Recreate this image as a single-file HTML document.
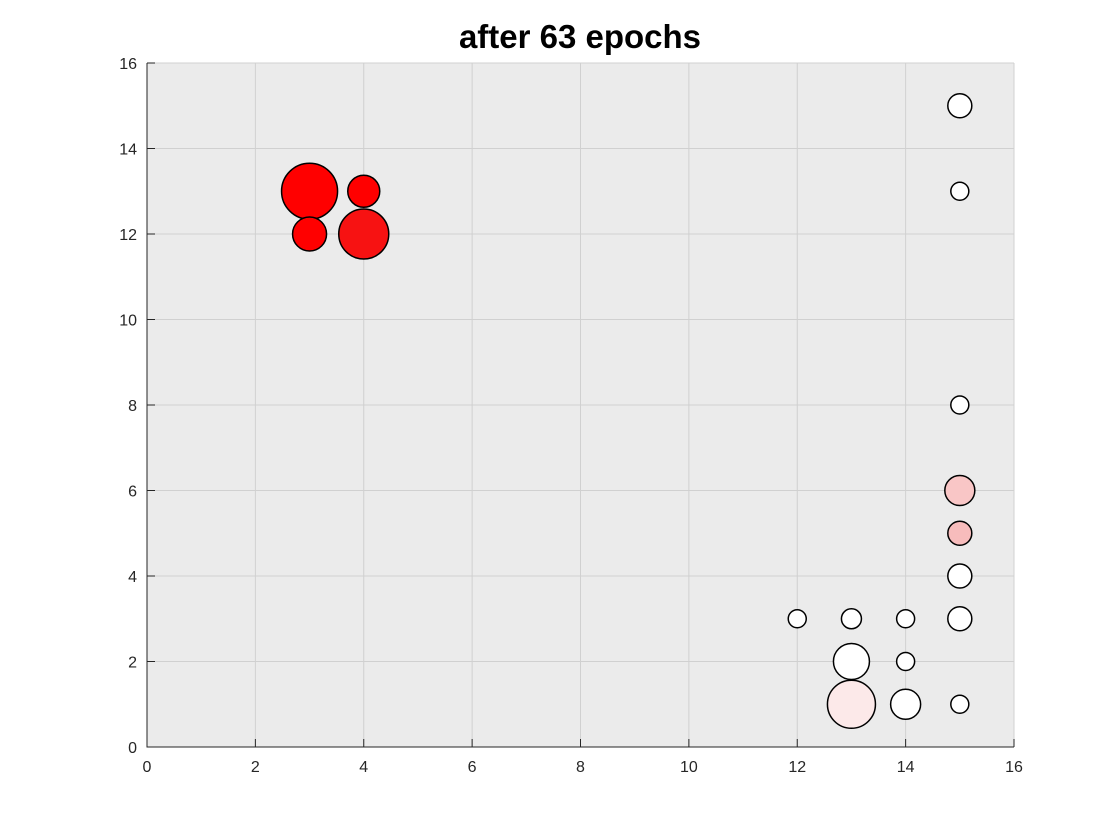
<!DOCTYPE html>
<html><head><meta charset="utf-8"><style>
body{margin:0;background:#fff;}
svg{display:block;font-family:"Liberation Sans",sans-serif;}
</style></head><body>
<svg id="chart" width="1120" height="840">
<rect x="0" y="0" width="1120" height="840" fill="#fff"/>
<text x="580" y="48" text-anchor="middle" font-size="33" font-weight="bold" fill="#000">after 63 epochs</text>
<g id="plot"></g>
</svg>
<script>
const xs=[3,4,3,4,15,15,15,15,15,15,15,12,13,14,13,14,13,14,15];
const ys=[13,13,12,12,15,13,8,6,5,4,3,3,3,3,2,2,1,1,1];
const sizes=[28,16,17,25,12,9,9,15,12,12,12,9,10,9,18,9,24,15,9];
const colors=["#ff0000","#ff0000","#ff0000","#f71212","#ffffff","#ffffff","#ffffff","#f9c6c6","#f7bcbc","#ffffff","#ffffff","#ffffff","#ffffff","#ffffff","#ffffff","#ffffff","#fce9e9","#ffffff","#ffffff"];
const xTicks=[0,2,4,6,8,10,12,14,16];
const yTicks=[0,2,4,6,8,10,12,14,16];
const L=147,R=1014,T=63,B=747;
const sx=v=>L+(R-L)*v/16, sy=v=>B-(B-T)*v/16;
const NS="http://www.w3.org/2000/svg";
const g=document.getElementById('plot');
function mk(t,a){const e=document.createElementNS(NS,t);for(const k in a)e.setAttribute(k,a[k]);g.appendChild(e);return e;}
const bg=mk('rect',{x:L,y:T,width:R-L,height:B-T,fill:'#ebebeb'});


xTicks.forEach(v=>{
 const gl=mk('line',{x1:sx(v),x2:sx(v),y1:T,y2:B,stroke:'#d0d0d0','stroke-width':1});
 
 
 mk('line',{x1:sx(v),x2:sx(v),y1:B,y2:B-8,stroke:'#262626'});
 const t=mk('text',{x:sx(v),y:B+25,'text-anchor':'middle','font-size':16,fill:'#262626'});t.textContent=v;
 
 
});
yTicks.forEach(v=>{
 const gl=mk('line',{x1:L,x2:R,y1:sy(v),y2:sy(v),stroke:'#d0d0d0','stroke-width':1});
 
 
 mk('line',{x1:L,x2:L+8,y1:sy(v),y2:sy(v),stroke:'#262626'});
 const t=mk('text',{x:L-10,y:sy(v)+6,'text-anchor':'end','font-size':16,fill:'#262626'});t.textContent=v;
 
 
});
const ax=mk('path',{d:`M${L},${T}V${B}H${R}`,fill:'none',stroke:'#262626','stroke-width':1});


xs.forEach((x,i)=>{
 const c=mk('circle',{cx:sx(x),cy:sy(ys[i]),r:sizes[i],fill:colors[i],stroke:'#000','stroke-width':1.5});
 
 
});
</script>
</body></html>
